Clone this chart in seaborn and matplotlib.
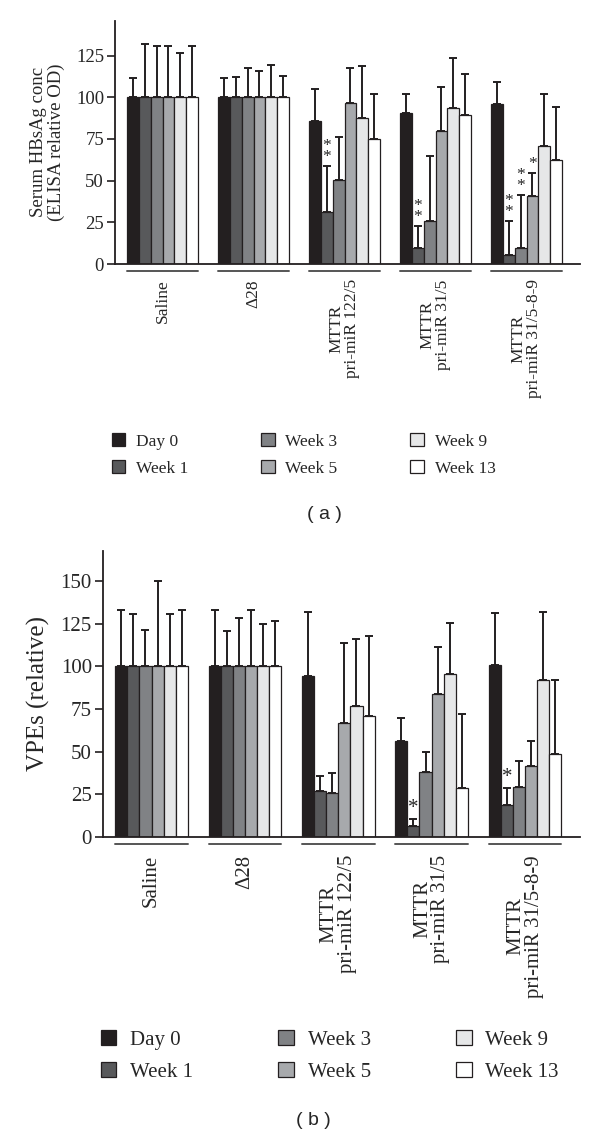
import numpy as np
import pandas as pd
import matplotlib
matplotlib.use("Agg")
import matplotlib.pyplot as plt
from matplotlib.patches import Patch
import seaborn as sns

# ---- data -------------------------------------------------------------
groups = ["Saline", "Δ28", "MTTR\npri-miR 122/5", "MTTR\npri-miR 31/5",
          "MTTR\npri-miR 31/5-8-9"]
weeks = ["Day 0", "Week 1", "Week 3", "Week 5", "Week 9", "Week 13"]
week_colors = ["#231f20", "#58595b", "#808285", "#a7a9ac", "#e6e7e8", "#ffffff"]

# (a) serum HBsAg, rows = groups, cols = weeks
hbsag_mean = [
    [100, 100, 100, 100, 100, 100],
    [100, 100, 100, 100, 100, 100],
    [85.6, 31.2, 50.4, 96.6, 87.6, 74.8],
    [90.6, 9.4, 25.6, 79.8, 93.8, 89.6],
    [96.2, 5.4, 9.6, 40.6, 70.8, 62.4],
]
hbsag_sd = [
    [11.4, 32.0, 30.6, 30.6, 26.4, 30.6],
    [11.4, 12.4, 17.4, 16.0, 19.4, 13.0],
    [19.6, 27.4, 26.0, 20.8, 31.0, 27.0],
    [11.2, 13.2, 39.4, 26.4, 29.8, 24.2],
    [13.2, 20.2, 31.8, 14.0, 31.2, 32.0],
]
hbsag_stars = [(2, 1, "*\n*"), (3, 1, "*\n*"), (4, 1, "*\n*"),
               (4, 2, "*\n*"), (4, 3, "*")]

# (b) VPEs
vpe_mean = [
    [100, 100, 100, 100, 100, 100],
    [100, 100, 100, 100, 100, 100],
    [94.5, 27.0, 26.0, 67.0, 77.0, 71.0],
    [56.5, 6.5, 38.0, 84.0, 95.5, 28.5],
    [101.0, 18.5, 29.5, 41.5, 92.0, 48.5],
]
vpe_sd = [
    [33.0, 30.5, 21.5, 50.0, 30.5, 33.0],
    [33.0, 20.5, 28.5, 33.0, 25.0, 26.5],
    [37.0, 9.0, 11.5, 46.5, 39.0, 46.5],
    [13.0, 4.0, 12.0, 27.5, 30.0, 43.5],
    [30.0, 10.0, 15.0, 14.5, 40.0, 43.5],
]
vpe_stars = [(3, 1, "*"), (4, 1, "*")]

sns.set_theme(style="white")
plt.rcParams["font.family"] = ["Liberation Serif", "DejaVu Serif"]

fig = plt.figure(figsize=(6.0, 11.35), dpi=100)
BAR_W = 0.78


def panel(rect, mean, sd, stars, ylabel, ymax, fs, tfs, yfs, ypad, ul_off, pad):
    ax = fig.add_axes(rect)
    df = pd.DataFrame(
        [(g, w, mean[i][j]) for i, g in enumerate(groups)
         for j, w in enumerate(weeks)],
        columns=["group", "week", "value"])
    sns.barplot(data=df, x="group", y="value", hue="week", order=groups,
                hue_order=weeks, palette=week_colors, width=BAR_W,
                edgecolor="#231f20", linewidth=0.9, errorbar=None,
                legend=False, saturation=1, ax=ax)
    bar_conts = list(ax.containers)
    # one-sided error bars + stars
    for j, cont in enumerate(bar_conts):
        for i, bar in enumerate(cont):
            xc = bar.get_x() + bar.get_width() / 2
            ax.errorbar(xc, mean[i][j], yerr=[[0], [sd[i][j]]], fmt="none",
                        ecolor="#231f20", elinewidth=1.4, capsize=3.2,
                        capthick=1.4, zorder=1)
    for i, j, s in stars:
        bar = bar_conts[j][i]
        xc = bar.get_x() + bar.get_width() / 2
        ax.annotate(s, (xc, mean[i][j] + sd[i][j]), xytext=(0, 1),
                    textcoords="offset points", ha="center", va="bottom",
                    fontsize=fs, linespacing=0.55)
    ax.set_ylim(0, ymax)
    ax.set_xlim(-0.52, 4.59)
    ax.set_yticks([0, 25, 50, 75, 100, 125, 150][: int(ymax // 25) + 1])
    ax.set_xlabel("")
    ax.set_ylabel(ylabel, fontsize=yfs, labelpad=ypad, linespacing=1.05)
    for s in ["top", "right"]:
        ax.spines[s].set_visible(False)
    for s in ["left", "bottom"]:
        ax.spines[s].set_color("#231f20")
        ax.spines[s].set_linewidth(1.3)
    ax.tick_params(axis="y", length=6, width=1.2, color="#231f20",
                   labelsize=tfs, left=True, pad=2)
    ax.tick_params(axis="x", length=0, labelsize=fs, pad=pad)
    for lab in ax.get_xticklabels():
        lab.set_rotation(90)
        lab.set_va("top")
        lab.set_ha("center")
        lab.set_multialignment("center")
        lab.set_linespacing(0.95)
    for k in range(len(groups)):
        ax.plot([k - BAR_W / 2, k + BAR_W / 2], [ul_off, ul_off],
                transform=ax.get_xaxis_transform(), clip_on=False,
                color="#555555", lw=1.4)
    return ax


ax_a = panel([0.192, 0.7674, 0.775, 0.2144], hbsag_mean, hbsag_sd,
             hbsag_stars, "Serum HBsAg conc\n(ELISA relative OD)", 146,
             12.5, 13.5, 13.5, 8, -0.029, 11)
ax_b = panel([0.1717, 0.2626, 0.795, 0.2522], vpe_mean, vpe_sd, vpe_stars,
             "VPEs (relative)", 167.7, 15, 15, 18, 8, -0.0245, 13)

handles = [Patch(facecolor=c, edgecolor="#231f20", linewidth=0.9)
           for c in week_colors]
fig.legend(handles, weeks, ncol=3, loc="upper left",
           bbox_to_anchor=(0.186, 0.6185), frameon=False, fontsize=12.5,
           handlelength=0.8, handleheight=0.8, handletextpad=0.6,
           columnspacing=4.2, labelspacing=0.6, borderpad=0,
           borderaxespad=0)
fig.legend(handles, weeks, ncol=3, loc="upper left",
           bbox_to_anchor=(0.168, 0.0927), frameon=False, fontsize=15,
           handlelength=0.75, handleheight=0.75, handletextpad=0.65,
           columnspacing=4.1, labelspacing=0.6, borderpad=0,
           borderaxespad=0)

fig.text(0.54, 0.5463, "( a )", ha="center", va="center", fontsize=14,
         family=["Liberation Sans", "DejaVu Sans"])
fig.text(0.523, 0.0132, "( b )", ha="center", va="center", fontsize=14,
         family=["Liberation Sans", "DejaVu Sans"])

fig.savefig("out.png", dpi=100)
